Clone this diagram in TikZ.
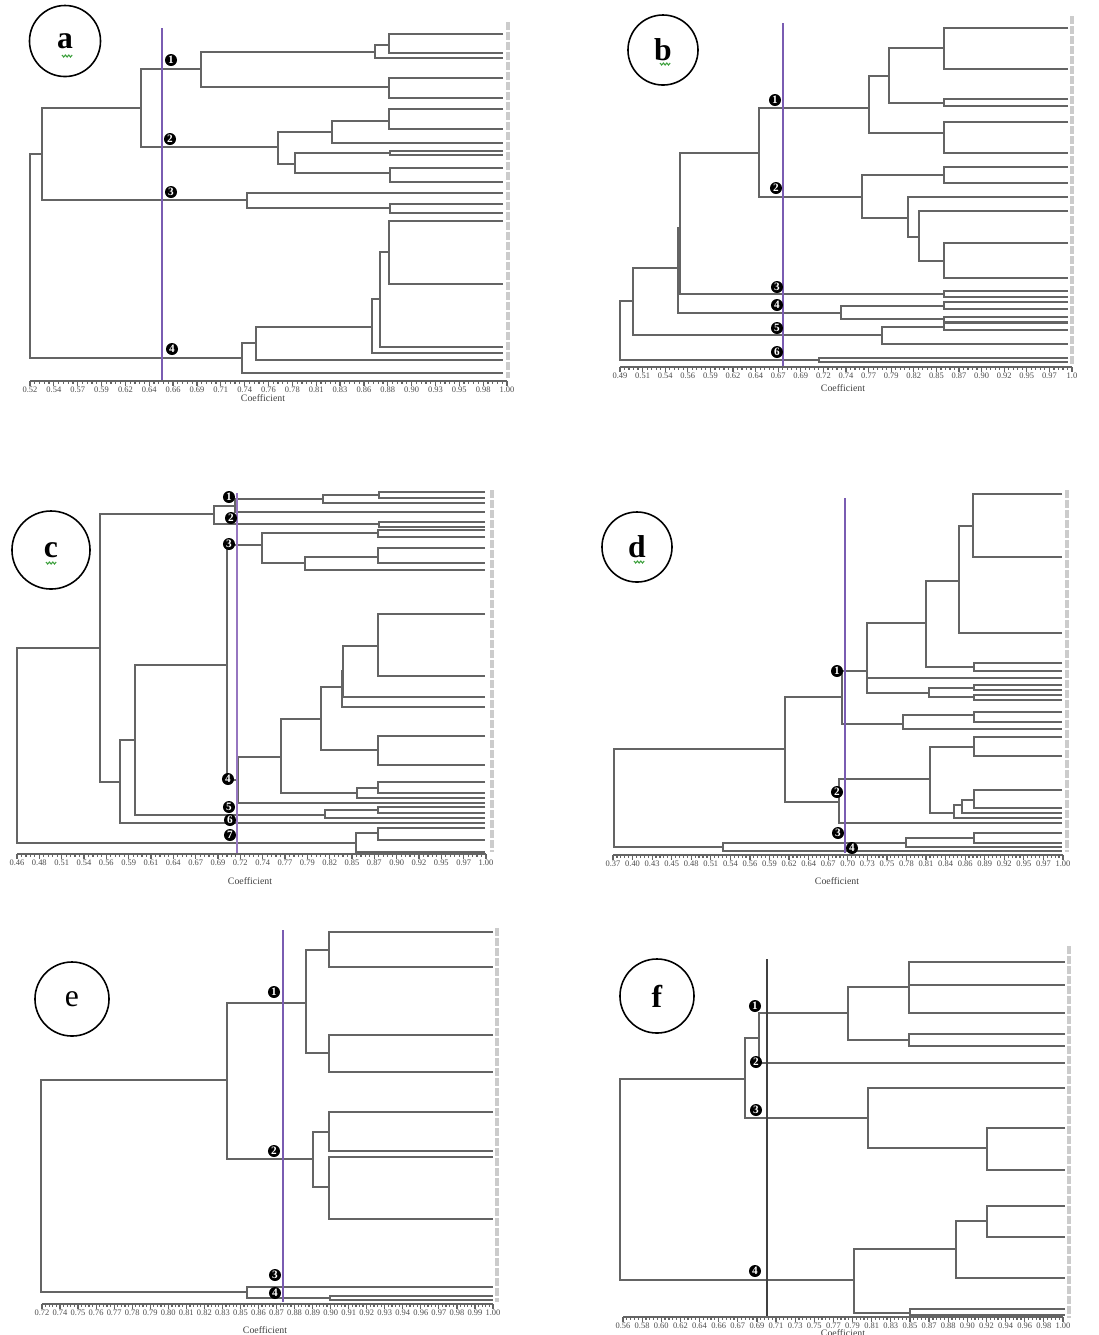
\documentclass[tikz,border=0pt]{standalone}
\usepackage{fontspec}
\setmainfont{Liberation Serif}
\usetikzlibrary{positioning}
\definecolor{cut-purple}{RGB}{122,92,178}
\definecolor{cut-lilac}{RGB}{150,118,192}
\definecolor{tree-gray}{RGB}{100,100,100}
\definecolor{squig-green}{RGB}{60,160,60}

\tikzset{
  dline/.style={draw=tree-gray, line width=0.42pt},
  cutline/.style={draw=cut-purple, line width=0.5pt},
  axisline/.style={draw=tree-gray, line width=0.35pt},
  ticklab/.style={font=\fontsize{2.4}{3}\selectfont, text=black!70, inner sep=0pt},
  axtitle/.style={font=\fontsize{2.8}{3}\selectfont, text=black!75, inner sep=0pt},
  panelmark/.style={draw, circle, line width=0.45pt, inner sep=0pt, font=\fontsize{9}{10}\selectfont},
  groupmark/.style={circle, fill=black, text=white, minimum size=0.12cm, inner sep=0pt, font=\fontsize{3.2}{3.5}\selectfont\bfseries},
  leaflab/.style={draw=gray!40, line width=0.04cm, dash pattern=on 0.08cm off 0.02cm},
}

\newcommand{\brk}[5]{\draw[dline] (#2,#3) -| (#1,#5) -- (#4,#5);}
\newcommand{\squig}[2]{\draw[squig-green, line width=0.3pt] (#1-5,#2) -- ++(1.7,2) -- ++(1.7,-2) -- ++(1.7,2) -- ++(1.7,-2) -- ++(1.7,2) -- ++(1.7,-2);}
\newcommand{\coefaxis}[5]{%
  \draw[axisline] (#1,#3) -- (#2,#3);
  \pgfmathsetmacro{\axstep}{(#2-#1)/(#4-1)}
  \pgfmathtruncatemacro{\axminor}{(#4-1)*5}
  \foreach \k in {0,...,\axminor}
    \draw[axisline] ({#1+\k*\axstep/5},#3) -- ++(0,2.5);
  \foreach \lab [count=\i from 0] in {#5} {
    \draw[axisline] ({#1+\i*\axstep},#3) -- ++(0,4.5);
    \node[ticklab] at ({#1+\i*\axstep},#3+8.5) {\lab};
  }
}

\begin{document}
\begin{tikzpicture}[x=0.01cm, y=-0.01cm]
  \fill[white] (0,0) rectangle (1099,1335);
  \useasboundingbox (0,0) rectangle (1099,1335);

  % a
  \node[panelmark, minimum size=0.71cm] (PanA) at (65,41) {\textbf{a}};
  \squig{67}{55}
  \brk{30}{42}{154}{242}{358}
  \brk{42}{141}{108}{247}{200}
  \brk{141}{201}{69}{278}{147}
  \brk{201}{375}{52}{389}{87}
  \brk{375}{389}{45}{503}{58}
  \brk{389}{503}{34}{503}{53}
  \brk{389}{503}{78}{503}{98}
  \brk{278}{332}{132}{295}{164}
  \brk{332}{389}{121}{503}{143}
  \brk{389}{503}{109}{503}{129}
  \brk{295}{390}{153}{390}{173}
  \brk{390}{503}{151}{503}{155}
  \brk{390}{503}{168}{503}{182}
  \brk{247}{503}{193}{390}{208}
  \brk{390}{503}{204}{503}{213}
  \brk{242}{256}{343}{503}{373}
  \brk{256}{372}{327}{503}{360}
  \brk{372}{380}{299}{503}{353}
  \brk{380}{389}{252}{503}{347}
  \brk{389}{503}{221}{503}{284}
  \draw[leaflab] (508,22) -- (508,378);
  \draw[cutline] (162,28) -- (162,382);
  \coefaxis{30}{507}{381}{21}{0.52,0.54,0.57,0.59,0.62,0.64,0.66,0.69,0.71,0.74,0.76,0.78,0.81,0.83,0.86,0.88,0.90,0.93,0.95,0.98,1.00}
  \node[axtitle] (TitA) at (263,398) {Coefficient};
  \node[groupmark] (a1) at (171,60) {1};
  \node[groupmark] (a2) at (170,139) {2};
  \node[groupmark] (a3) at (171,192) {3};
  \node[groupmark] (a4) at (172,349) {4};

  % b
  \node[panelmark, minimum size=0.70cm] (PanB) at (663,50) {\textbf{b}};
  \squig{665}{63}
  \brk{620}{633}{301}{819}{360}
  \brk{633}{678}{268}{882}{335}
  \brk{678}{680}{228}{841}{313}
  \brk{680}{759}{153}{944}{294}
  \brk{759}{869}{108}{862}{197}
  \brk{869}{889}{76}{944}{133}
  \brk{889}{944}{48}{944}{103}
  \brk{944}{1068}{28}{1068}{69}
  \brk{944}{1068}{99}{1068}{106}
  \brk{944}{1068}{122}{1068}{153}
  \brk{862}{944}{175}{908}{218}
  \brk{944}{1068}{167}{1068}{183}
  \brk{908}{1068}{197}{919}{237}
  \brk{919}{1068}{211}{944}{261}
  \brk{944}{1068}{243}{1068}{278}
  \brk{944}{1068}{291}{1068}{297}
  \brk{841}{944}{306}{944}{319}
  \brk{944}{1068}{302}{1068}{309}
  \brk{944}{1068}{317}{1068}{322}
  \brk{882}{944}{327}{1068}{344}
  \brk{944}{1068}{323}{1068}{330}
  \brk{819}{1068}{358}{1068}{362}
  \draw[leaflab] (1072,16) -- (1072,364);
  \draw[cutline] (783,23) -- (783,367);
  \coefaxis{620}{1072}{367}{21}{0.49,0.51,0.54,0.56,0.59,0.62,0.64,0.67,0.69,0.72,0.74,0.77,0.79,0.82,0.85,0.87,0.90,0.92,0.95,0.97,1.0}
  \node[axtitle] (TitB) at (843,388) {Coefficient};
  \node[groupmark] (b1) at (775,100) {1};
  \node[groupmark] (b2) at (776,188) {2};
  \node[groupmark] (b3) at (777,287) {3};
  \node[groupmark] (b4) at (777,305) {4};
  \node[groupmark] (b5) at (777,328) {5};
  \node[groupmark] (b6) at (777,352) {6};

  % c
  \node[panelmark, minimum size=0.78cm] (PanC) at (51,550) {\textbf{c}};
  \squig{51}{562}
  \brk{17}{100}{648}{356}{843}
  \brk{100}{214}{514}{120}{782}
  \brk{214}{235}{506}{379}{524}
  \brk{235}{323}{499}{485}{512}
  \brk{323}{379}{495}{485}{503}
  \brk{379}{485}{492}{485}{498}
  \brk{379}{485}{522}{485}{527}
  \brk{120}{135}{740}{485}{823}
  \brk{135}{227}{665}{325}{815}
  \brk{325}{378}{810}{485}{818}
  \brk{378}{485}{807}{485}{813}
  \brk{227}{262}{545}{238}{780}
  \brk{262}{378}{533}{305}{563}
  \brk{378}{485}{530}{485}{537}
  \brk{305}{378}{557}{485}{570}
  \brk{378}{485}{548}{485}{563}
  \brk{238}{281}{757}{485}{803}
  \brk{281}{321}{719}{357}{793}
  \brk{357}{378}{788}{485}{798}
  \brk{378}{485}{782}{485}{793}
  \brk{321}{342}{687}{378}{750}
  \brk{378}{485}{736}{485}{765}
  \brk{342}{343}{671}{485}{707}
  \brk{343}{378}{646}{485}{697}
  \brk{378}{485}{614}{485}{676}
  \brk{356}{378}{833}{485}{852}
  \brk{378}{485}{828}{485}{840}
  \draw[leaflab] (492,490) -- (492,852);
  \draw[cutline, draw=cut-lilac, line width=0.8pt] (237,493) -- (237,855);
  \coefaxis{17}{486}{854}{22}{0.46,0.48,0.51,0.54,0.56,0.59,0.61,0.64,0.67,0.69,0.72,0.74,0.77,0.79,0.82,0.85,0.87,0.90,0.92,0.95,0.97,1.00}
  \node[axtitle] (TitC) at (250,881) {Coefficient};
  \node[groupmark] (c1) at (229,497) {1};
  \node[groupmark] (c2) at (231,518) {2};
  \node[groupmark] (c3) at (229,544) {3};
  \node[groupmark] (c4) at (228,779) {4};
  \node[groupmark] (c5) at (229,807) {5};
  \node[groupmark] (c6) at (230,820) {6};
  \node[groupmark] (c7) at (230,835) {7};

  % d
  \node[panelmark, minimum size=0.70cm] (PanD) at (637,547) {\textbf{d}};
  \squig{639}{561}
  \brk{614}{785}{749}{723}{847}
  \brk{723}{906}{843}{1062}{851}
  \brk{906}{974}{838}{1062}{847}
  \brk{974}{1062}{833}{1062}{843}
  \brk{785}{842}{697}{839}{802}
  \brk{842}{867}{671}{903}{724}
  \brk{867}{926}{623}{929}{693}
  \draw[dline] (867,678) -- (1062,678);
  \brk{926}{959}{581}{974}{667}
  \brk{959}{973}{526}{1062}{633}
  \brk{973}{1062}{494}{1062}{557}
  \brk{974}{1062}{663}{1062}{671}
  \brk{929}{974}{688}{974}{697}
  \brk{974}{1062}{685}{1062}{690}
  \brk{974}{1062}{695}{1062}{700}
  \brk{903}{974}{715}{1062}{729}
  \brk{974}{1062}{712}{1062}{722}
  \brk{839}{930}{779}{1062}{823}
  \brk{930}{974}{747}{954}{813}
  \brk{974}{1062}{737}{1062}{756}
  \brk{954}{962}{805}{1062}{818}
  \brk{962}{974}{800}{1062}{813}
  \brk{974}{1062}{790}{1062}{808}
  \draw[leaflab] (1067,490) -- (1067,852);
  \draw[cutline] (845,498) -- (845,853);
  \coefaxis{613}{1063}{855}{24}{0.37,0.40,0.43,0.45,0.48,0.51,0.54,0.56,0.59,0.62,0.64,0.67,0.70,0.73,0.75,0.78,0.81,0.84,0.86,0.89,0.92,0.95,0.97,1.00}
  \node[axtitle] (TitD) at (837,881) {Coefficient};
  \node[groupmark] (d1) at (837,671) {1};
  \node[groupmark] (d2) at (837,792) {2};
  \node[groupmark] (d3) at (838,833) {3};
  \node[groupmark] (d4) at (852,848) {4};

  % e
  \node[panelmark, minimum size=0.74cm] (PanE) at (72,999) {e};
  \brk{41}{227}{1080}{247}{1292}
  \brk{247}{493}{1287}{330}{1298}
  \brk{330}{493}{1296}{493}{1300}
  \brk{227}{306}{1003}{313}{1159}
  \brk{306}{329}{950}{329}{1053}
  \brk{329}{493}{932}{493}{967}
  \brk{329}{493}{1035}{493}{1072}
  \brk{313}{329}{1132}{329}{1187}
  \brk{329}{493}{1112}{493}{1151}
  \brk{329}{493}{1157}{493}{1219}
  \draw[leaflab] (497,928) -- (497,1302);
  \draw[cutline] (283,930) -- (283,1302);
  \coefaxis{42}{493}{1304}{26}{0.72,0.74,0.75,0.76,0.77,0.78,0.79,0.80,0.81,0.82,0.83,0.85,0.86,0.87,0.88,0.89,0.90,0.91,0.92,0.93,0.94,0.96,0.97,0.98,0.99,1.00}
  \node[axtitle] (TitE) at (265,1330) {Coefficient};
  \node[groupmark] (e1) at (274,992) {1};
  \node[groupmark] (e2) at (274,1151) {2};
  \node[groupmark] (e3) at (275,1275) {3};
  \node[groupmark] (e4) at (275,1293) {4};

  % f
  \node[panelmark, minimum size=0.74cm] (PanF) at (657,996) {\textbf{f}};
  \brk{620}{745}{1079}{854}{1280}
  \brk{745}{759}{1038}{868}{1118}
  \brk{759}{848}{1013}{1065}{1063}
  \brk{848}{909}{987}{909}{1040}
  \brk{909}{1065}{962}{1065}{1013}
  \draw[dline] (909,985) -- (1065,985);
  \brk{909}{1065}{1034}{1065}{1046}
  \brk{868}{1065}{1088}{987}{1148}
  \brk{987}{1065}{1128}{1065}{1170}
  \brk{854}{956}{1249}{910}{1313}
  \brk{956}{987}{1221}{1065}{1278}
  \brk{987}{1065}{1206}{1065}{1237}
  \brk{910}{1065}{1309}{1065}{1315}
  \draw[leaflab] (1069,946) -- (1069,1318);
  \draw[dline, draw=black!75] (767,959) -- (767,1317);
  \coefaxis{623}{1063}{1317}{24}{0.56,0.58,0.60,0.62,0.64,0.66,0.67,0.69,0.71,0.73,0.75,0.77,0.79,0.81,0.83,0.85,0.87,0.88,0.90,0.92,0.94,0.96,0.98,1.00}
  \node[axtitle] (TitF) at (843,1333) {Coefficient};
  \node[groupmark] (f1) at (755,1006) {1};
  \node[groupmark] (f2) at (756,1062) {2};
  \node[groupmark] (f3) at (756,1110) {3};
  \node[groupmark] (f4) at (755,1271) {4};
\end{tikzpicture}
\end{document}
